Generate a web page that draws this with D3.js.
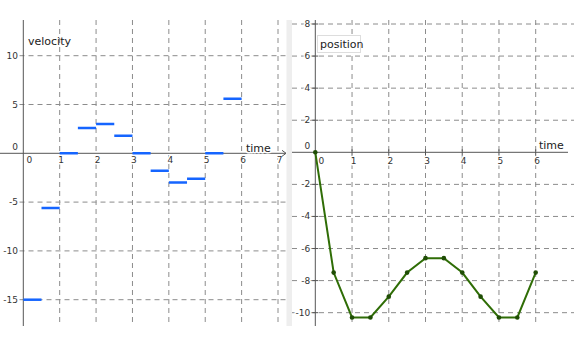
<!DOCTYPE html>
<html lang="en">
<head>
<meta charset="utf-8">
<title>velocity and position</title>
<script src="https://cdn.jsdelivr.net/npm/d3@7"></script>
<style>
  body { margin: 0; background: #fff; }
  text { font-family: "DejaVu Sans", sans-serif; }
  .tick { stroke: #fff; stroke-width: 3px; paint-order: stroke; stroke-linejoin: round; }
</style>
</head>
<body>
<script>
// data
var segStart = [0, 0.5, 1, 1.5, 2, 2.5, 3, 3.5, 4, 4.5, 5, 5.5];
var velocity = [-15, -5.6, 0, 2.6, 3, 1.8, 0, -1.8, -3, -2.6, 0, 5.6];
var times = [0, 0.5, 1, 1.5, 2, 2.5, 3, 3.5, 4, 4.5, 5, 5.5, 6];
var position = [0, -7.5, -10.3, -10.3, -9, -7.5, -6.6, -6.6, -7.5, -9, -10.3, -10.3, -7.5];
var velTicksX = [0, 1, 2, 3, 4, 5, 6, 7];
var velTicksY = [-15, -10, -5, 0, 5, 10];
var posTicksX = [0, 1, 2, 3, 4, 5, 6];
var posTicksY = [-10, -8, -6, -4, -2, 0, 2, 4, 6, 8];

var w = 574, h = 338;
var yTop = 20, yBot = 326;

var svg = d3.select("body").append("svg")
  .attr("width", w).attr("height", h);

// separator strip between the two views
svg.append("rect").attr("x", 286.5).attr("y", yTop).attr("width", 5.5).attr("height", yBot - yTop)
  .attr("fill", "#eeeeee");

var defs = svg.append("defs");
defs.append("clipPath").attr("id", "clipL").append("rect")
  .attr("x", 0).attr("y", yTop).attr("width", 286.5).attr("height", yBot - yTop);
defs.append("clipPath").attr("id", "clipR").append("rect")
  .attr("x", 292).attr("y", yTop).attr("width", w - 292).attr("height", yBot - yTop);

var gridCol = "#8c8c8c", axisCol = "#555", labCol = "#333";

// ---------- left: velocity ----------
var xV = d3.scaleLinear().domain([0, 7]).range([23.3, 278]);
var yV = d3.scaleLinear().domain([0, 10]).range([153.3, 55.7]);
var L = svg.append("g").attr("clip-path", "url(#clipL)");

L.selectAll(".vg").data(velTicksX.filter(d => d != 0)).enter().append("line")
  .attr("x1", d => xV(d)).attr("x2", d => xV(d)).attr("y1", yTop).attr("y2", yBot)
  .attr("stroke", gridCol).attr("stroke-dasharray", "5,4");
L.selectAll(".hg").data(velTicksY.filter(d => d != 0)).enter().append("line")
  .attr("x1", 19.5).attr("x2", 286.5).attr("y1", d => yV(d)).attr("y2", d => yV(d))
  .attr("stroke", gridCol).attr("stroke-dasharray", "5,4");

L.selectAll(".xl").data(velTicksX).enter().append("text").attr("class", "tick")
  .attr("x", d => d == 0 ? xV(d) + 6 : xV(d) + 1.5).attr("y", yV(0) + 10)
  .attr("text-anchor", "middle").attr("font-size", 9).attr("fill", labCol)
  .text(d => d);
L.selectAll(".yl").data(velTicksY).enter().append("text").attr("class", "tick")
  .attr("x", 18).attr("y", d => d == 0 ? yV(0) - 3 : yV(d) + 3)
  .attr("text-anchor", "end").attr("font-size", 9).attr("fill", labCol)
  .text(d => d);

L.append("line").attr("x1", 0).attr("x2", 286).attr("y1", yV(0)).attr("y2", yV(0))
  .attr("stroke", axisCol);
L.append("path").attr("d", "M282," + (yV(0) - 3) + " L286," + yV(0) + " L282," + (yV(0) + 3))
  .attr("fill", "none").attr("stroke", axisCol);
L.append("line").attr("x1", xV(0)).attr("x2", xV(0)).attr("y1", yTop).attr("y2", yBot)
  .attr("stroke", axisCol);

L.selectAll(".seg").data(segStart).enter().append("line")
  .attr("x1", d => xV(d)).attr("x2", d => xV(d + 0.5))
  .attr("y1", (d, i) => yV(velocity[i])).attr("y2", (d, i) => yV(velocity[i]))
  .attr("stroke", "#1565ff").attr("stroke-width", 2.5);

L.append("text").attr("x", 28).attr("y", 45).attr("font-size", 11).attr("fill", "#222").text("velocity");
L.append("text").attr("class", "tick").attr("x", 246).attr("y", 152).attr("font-size", 11).attr("fill", "#222").text("time");

// ---------- right: position ----------
var xP = d3.scaleLinear().domain([0, 6]).range([315.3, 535.7]);
var yP = d3.scaleLinear().domain([0, 8]).range([152.3, 24]);
var R = svg.append("g").attr("clip-path", "url(#clipR)");

R.selectAll(".vg").data(posTicksX.filter(d => d != 0)).enter().append("line")
  .attr("x1", d => xP(d)).attr("x2", d => xP(d)).attr("y1", yTop).attr("y2", yBot)
  .attr("stroke", gridCol).attr("stroke-dasharray", "5,4");
R.selectAll(".hg").data(posTicksY.filter(d => d != 0)).enter().append("line")
  .attr("x1", 292).attr("x2", w).attr("y1", d => yP(d)).attr("y2", d => yP(d))
  .attr("stroke", gridCol).attr("stroke-dasharray", "5,4");

R.selectAll(".xl").data(posTicksX).enter().append("text").attr("class", "tick")
  .attr("x", d => d == 0 ? xP(d) + 6 : xP(d) + 1.5).attr("y", yP(0) + 12)
  .attr("text-anchor", "middle").attr("font-size", 9).attr("fill", labCol)
  .text(d => d);
R.selectAll(".yl").data(posTicksY).enter().append("text").attr("class", "tick")
  .attr("x", xP(0) - 5).attr("y", d => d == 0 ? yP(0) - 3 : yP(d) + 3)
  .attr("text-anchor", "end").attr("font-size", 9).attr("fill", labCol)
  .text(d => d);

R.append("line").attr("x1", 292).attr("x2", 568).attr("y1", yP(0)).attr("y2", yP(0))
  .attr("stroke", axisCol);
R.append("line").attr("x1", xP(0)).attr("x2", xP(0)).attr("y1", yTop).attr("y2", yBot)
  .attr("stroke", axisCol);
// small tick marks on axes
R.selectAll(".tx").data(posTicksX.filter(d => d != 0)).enter().append("line")
  .attr("x1", d => xP(d)).attr("x2", d => xP(d)).attr("y1", yP(0) - 3).attr("y2", yP(0) + 3)
  .attr("stroke", axisCol);
R.selectAll(".ty").data(posTicksY.filter(d => d != 0)).enter().append("line")
  .attr("x1", xP(0) - 3).attr("x2", xP(0) + 3).attr("y1", d => yP(d)).attr("y2", d => yP(d))
  .attr("stroke", axisCol);

var line = d3.line().x((d, i) => xP(times[i])).y(d => yP(d));
R.append("path").datum(position).attr("d", line)
  .attr("fill", "none").attr("stroke", "#2f6d06").attr("stroke-width", 2);
R.selectAll(".pt").data(position).enter().append("circle")
  .attr("cx", (d, i) => xP(times[i])).attr("cy", d => yP(d)).attr("r", 2.3)
  .attr("fill", "#1f4d05");

R.append("rect").attr("x", 317.5).attr("y", 35.5).attr("width", 43).attr("height", 17)
  .attr("fill", "#fff").attr("stroke", "#dddddd");
R.append("text").attr("x", 320).attr("y", 48).attr("font-size", 11).attr("fill", "#222").text("position");
R.append("text").attr("class", "tick").attr("x", 539).attr("y", 149).attr("font-size", 11).attr("fill", "#222").text("time");
</script>
</body>
</html>
